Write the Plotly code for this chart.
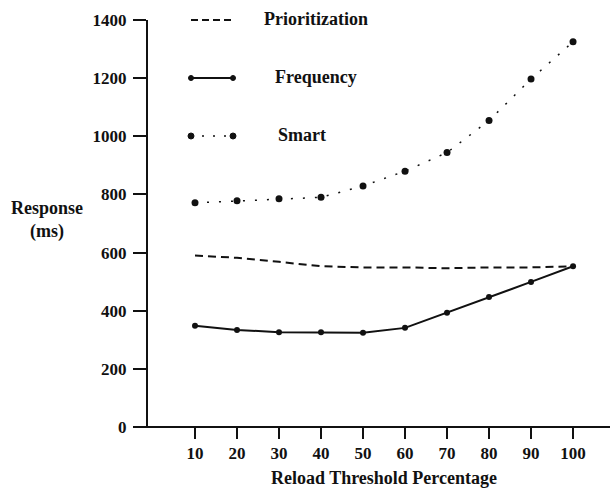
import plotly.graph_objects as go

thresholds = [10, 20, 30, 40, 50, 60, 70, 80, 90, 100]
prioritization = [590, 582, 568, 553, 549, 549, 546, 549, 549, 553]
frequency = [348, 334, 326, 326, 324, 341, 393, 447, 499, 553]
smart = [771, 778, 785, 790, 829, 880, 944, 1054, 1197, 1325]
y_ticks = [0, 200, 400, 600, 800, 1000, 1200, 1400]

FONT = "Liberation Serif"
BLACK = "#111111"

fig = go.Figure()
fig.add_trace(go.Scatter(x=thresholds, y=prioritization, mode="lines",
                         line=dict(color=BLACK, width=2, dash="8px,5px"),
                         name="Prioritization", showlegend=False))
fig.add_trace(go.Scatter(x=thresholds, y=frequency, mode="lines+markers",
                         line=dict(color=BLACK, width=2),
                         marker=dict(color=BLACK, size=6, symbol="circle"),
                         name="Frequency", showlegend=False))
fig.add_trace(go.Scatter(x=thresholds, y=smart, mode="lines+markers",
                         line=dict(color=BLACK, width=1.5, dash="2px,10px"),
                         marker=dict(color=BLACK, size=7, symbol="circle"),
                         name="Smart", showlegend=False))

L, R, T, B = 148, 0, 20, 62
W, H = 610, 489
pw = W - L - R
ph = H - T - B

def px(x):
    return (x - L) / pw

def py(y):
    return (H - B - y) / ph

shapes = []
annotations = []
# x-axis line extending left of y-axis
shapes.append(dict(type="line", xref="paper", yref="paper", x0=px(140), x1=1.0, y0=0, y1=0,
                   line=dict(color=BLACK, width=2)))

TXT = dict(family=FONT, size=18, color=BLACK, weight="bold")

# manual legend
leg = [("Prioritization", 20, 316, "dash"), ("Frequency", 78, 316, "solid"), ("Smart", 136, 302, "dot")]
for name, yy, tx, kind in leg:
    if kind == "dash":
        shapes.append(dict(type="line", xref="paper", yref="paper", x0=px(191), x1=px(233),
                           y0=py(yy), y1=py(yy), line=dict(color=BLACK, width=2, dash="7px,4px")))
    elif kind == "solid":
        shapes.append(dict(type="line", xref="paper", yref="paper", x0=px(191), x1=px(233),
                           y0=py(yy), y1=py(yy), line=dict(color=BLACK, width=2)))
        for cx in (191, 233):
            shapes.append(dict(type="circle", xref="paper", yref="paper", x0=px(cx - 2.5), x1=px(cx + 2.5),
                               y0=py(yy + 2.5), y1=py(yy - 2.5), fillcolor=BLACK, line=dict(color=BLACK, width=1)))
    else:
        shapes.append(dict(type="line", xref="paper", yref="paper", x0=px(191), x1=px(233),
                           y0=py(yy), y1=py(yy), line=dict(color=BLACK, width=1.5, dash="2px,9px")))
        for cx in (191, 233):
            shapes.append(dict(type="circle", xref="paper", yref="paper", x0=px(cx - 3), x1=px(cx + 3),
                               y0=py(yy + 3), y1=py(yy - 3), fillcolor=BLACK, line=dict(color=BLACK, width=1)))
    annotations.append(dict(text=name, xref="paper", yref="paper", x=px(tx), y=py(yy - 1),
                            xanchor="center", yanchor="middle", showarrow=False, font=TXT))

annotations.append(dict(text="Response<br>(ms)", xref="paper", yref="paper", x=px(47), y=py(220),
                        xanchor="center", yanchor="middle", showarrow=False, align="center", font=TXT))
annotations.append(dict(text="Reload Threshold Percentage", xref="paper", yref="paper", x=px(384), y=py(478),
                        xanchor="center", yanchor="middle", showarrow=False, font=TXT))

TICKF = dict(family=FONT, size=17, color=BLACK, weight="bold")

fig.update_layout(
    width=W, height=H,
    margin=dict(l=L, r=R, t=T, b=B, pad=0),
    paper_bgcolor="white", plot_bgcolor="white",
    shapes=shapes, annotations=annotations,
    xaxis=dict(range=[-1.19, 108.8], tickvals=thresholds, ticktext=[str(t) for t in thresholds],
               ticks="outside", ticklen=11, tickwidth=1.5, tickcolor=BLACK,
               showline=False, showgrid=False, zeroline=False, tickfont=TICKF),
    yaxis=dict(range=[0, 1400], tickvals=y_ticks, ticks="outside", ticklen=13, tickwidth=1.5,
               tickcolor=BLACK, showline=True, linecolor=BLACK, linewidth=2,
               ticklabelstandoff=3,
               showgrid=False, zeroline=False, tickfont=TICKF),
)

fig.write_html("out.html")
